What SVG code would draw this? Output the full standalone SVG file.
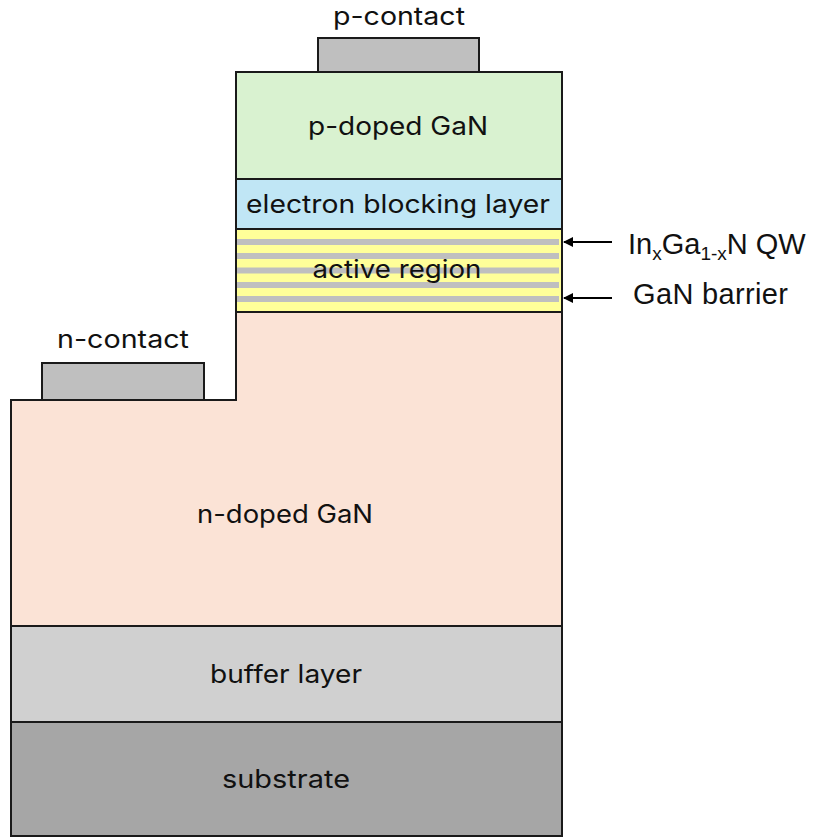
<svg xmlns="http://www.w3.org/2000/svg" width="813" height="838" viewBox="0 0 813 838">
<style>
.l{stroke:#1a1a1a;stroke-width:2}
.t{font-family:Inter,"Open Sans","Liberation Sans",sans-serif;font-size:25px;fill:#111;text-anchor:middle}
.a{font-family:"Liberation Sans",Arial,sans-serif;font-size:29px;fill:#111}
.c{fill:#BFBFBF}
</style>
<defs>
<marker id="ah" markerWidth="10" markerHeight="10" refX="9" refY="5" orient="auto" markerUnits="userSpaceOnUse">
<path d="M0,0 L10,5 L0,10 Z" fill="#000"/>
</marker>
</defs>
<rect width="813" height="838" fill="#fff"/>
<g id="substrate">
<rect class="l" x="11" y="722" width="551" height="114" fill="#A6A6A6"/>
<text class="t" x="286" y="788" textLength="128" lengthAdjust="spacingAndGlyphs">substrate</text>
</g>
<g id="buffer">
<rect class="l" x="11" y="626" width="551" height="96" fill="#D0D0D0"/>
<text class="t" x="286" y="683" textLength="152" lengthAdjust="spacingAndGlyphs">buffer layer</text>
</g>
<g id="n-doped">
<path class="l" d="M11,400 H236 V312 H562 V626 H11 Z" fill="#FBE3D6"/>
<text class="t" x="285" y="523" textLength="176" lengthAdjust="spacingAndGlyphs">n-doped GaN</text>
</g>
<g id="active">
<rect class="l" x="236" y="229" width="326" height="83" fill="#FFFF99"/>
<g fill="#BFBFBF">
<rect x="237" y="239" width="322" height="6"/>
<rect x="237" y="253" width="322" height="6"/>
<rect x="237" y="267.5" width="322" height="6"/>
<rect x="237" y="282" width="322" height="6"/>
<rect x="237" y="296" width="322" height="6"/>
</g>
<text class="t" x="397" y="278" textLength="169" lengthAdjust="spacingAndGlyphs">active region</text>
</g>
<g id="ebl">
<rect class="l" x="236" y="179" width="326" height="50" fill="#C0E6F5"/>
<text class="t" x="398" y="213" textLength="304" lengthAdjust="spacingAndGlyphs">electron blocking layer</text>
</g>
<g id="p-doped">
<rect class="l" x="236" y="72" width="326" height="107" fill="#D9F2D0"/>
<text class="t" x="398" y="135" textLength="180" lengthAdjust="spacingAndGlyphs">p-doped GaN</text>
</g>
<g id="p-contact">
<rect class="l c" x="318" y="38" width="161" height="34"/>
<text class="t" x="399" y="25" textLength="132" lengthAdjust="spacingAndGlyphs">p-contact</text>
</g>
<g id="n-contact">
<rect class="l c" x="42" y="363" width="162" height="37"/>
<text class="t" x="123" y="348" textLength="132" lengthAdjust="spacingAndGlyphs">n-contact</text>
</g>
<g id="connectors">
<line x1="612" y1="242" x2="564" y2="242" stroke="#000" stroke-width="2" marker-end="url(#ah)"/>
<line x1="612" y1="298" x2="564" y2="298" stroke="#000" stroke-width="2" marker-end="url(#ah)"/>
</g>
<g id="labels">
<text class="a" x="628" y="254">In<tspan dy="6" font-size="19">x</tspan><tspan dy="-6">Ga</tspan><tspan dy="6" font-size="19">1-x</tspan><tspan dy="-6">N QW</tspan></text>
<text class="a" x="633" y="304" textLength="155" lengthAdjust="spacing">GaN barrier</text>
</g>
</svg>
